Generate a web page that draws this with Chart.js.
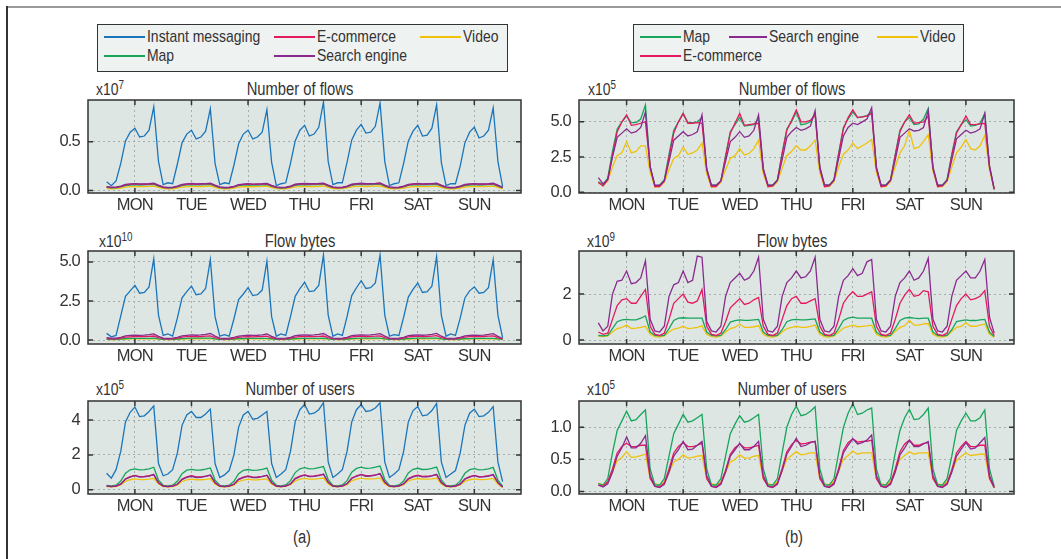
<!DOCTYPE html>
<html>
<head>
<meta charset="utf-8">
<script src="https://cdn.jsdelivr.net/npm/chart.js@4.4.0/dist/chart.umd.min.js"></script>
<style>
  body { margin: 0; width: 1061px; height: 559px; overflow: hidden; position: relative; background: #fff;
         font-family: "Liberation Sans", Arial, sans-serif; color: #333; }
  .frame-top { position: absolute; left: 7px; top: 6px; width: 1054px; height: 2px; background: #999; }
  .frame-left { position: absolute; left: 6px; top: 6px; width: 2px; height: 553px; background: #333; }
  canvas { position: absolute; }
  .legend { position: absolute; top: 24px; height: 48px; border: 1.5px solid #333; background: #eef2f1; box-sizing: border-box; }
  .item { position: absolute; font-size: 17px; line-height: 18px; height: 18px; white-space: nowrap; }
  .item i { position: absolute; left: 0; top: 8px; height: 0; width: 41px; border-top: 2px solid; }
  .item span { position: absolute; left: 43px; top: 0; transform: scaleX(0.82); transform-origin: left center; }
  .title { position: absolute; font-size: 18px; line-height: 18px; transform: translateX(-50%) scaleX(0.82); white-space: nowrap; }
  .exp { position: absolute; font-size: 17px; line-height: 18px; white-space: nowrap; transform: scaleX(0.82); transform-origin: left center; }
  .exp sup { font-size: 12px; vertical-align: 6px; line-height: 0; }
  .sub { position: absolute; font-size: 18px; line-height: 18px; transform: translateX(-50%) scaleX(0.82); }
</style>
</head>
<body>
<div class="frame-top"></div>
<div class="frame-left"></div>

<div class="legend" style="left:97px; width:411px;">
  <div class="item" style="left:6px; top:3px;"><i style="color:#1b75bb"></i><span>Instant messaging</span></div>
  <div class="item" style="left:176px; top:3px;"><i style="color:#e5195e"></i><span>E-commerce</span></div>
  <div class="item" style="left:322px; top:3px;"><i style="color:#f0c20a"></i><span>Video</span></div>
  <div class="item" style="left:6px; top:22px;"><i style="color:#17a55b"></i><span>Map</span></div>
  <div class="item" style="left:176px; top:22px;"><i style="color:#8a2a8e"></i><span>Search engine</span></div>
</div>
<div class="legend" style="left:633px; width:331px;">
  <div class="item" style="left:6px; top:3px;"><i style="color:#17a55b"></i><span>Map</span></div>
  <div class="item" style="left:95px; top:3px;"><i style="color:#8a2a8e; width:38px"></i><span style="left:40px">Search engine</span></div>
  <div class="item" style="left:243px; top:3px;"><i style="color:#f0c20a"></i><span>Video</span></div>
  <div class="item" style="left:6px; top:22px;"><i style="color:#e5195e"></i><span>E-commerce</span></div>
</div>

<div class="title" style="left:300px; top:80px;">Number of flows</div>
<div class="title" style="left:792px; top:80px;">Number of flows</div>
<div class="title" style="left:300px; top:232px;">Flow bytes</div>
<div class="title" style="left:792px; top:232px;">Flow bytes</div>
<div class="title" style="left:300px; top:380px;">Number of users</div>
<div class="title" style="left:792px; top:380px;">Number of users</div>

<div class="exp" style="left:96px; top:81px;">x10<sup>7</sup></div>
<div class="exp" style="left:588px; top:81px;">x10<sup>5</sup></div>
<div class="exp" style="left:99px; top:233px;">x10<sup>10</sup></div>
<div class="exp" style="left:587px; top:233px;">x10<sup>9</sup></div>
<div class="exp" style="left:96px; top:381px;">x10<sup>5</sup></div>
<div class="exp" style="left:587px; top:381px;">x10<sup>5</sup></div>

<div class="sub" style="left:302px; top:528px;">(a)</div>
<div class="sub" style="left:794px; top:528px;">(b)</div>

<canvas id="a1"></canvas>
<canvas id="a2"></canvas>
<canvas id="a3"></canvas>
<canvas id="b1"></canvas>
<canvas id="b2"></canvas>
<canvas id="b3"></canvas>

<script>
const dayNames = ['MON', 'TUE', 'WED', 'THU', 'FRI', 'SAT', 'SUN']
const dayTicks = [12, 36, 60, 84, 108, 132, 156]
const hours = [0,2,4,6,8,10,12,14,16,18,20,22,24,26,28,30,32,34,36,38,40,42,44,46,48,50,52,54,56,58,60,62,64,66,68,70,72,74,76,78,80,82,84,86,88,90,92,94,96,98,100,102,104,106,108,110,112,114,116,118,120,122,124,126,128,130,132,134,136,138,140,142,144,146,148,150,152,154,156,158,160,162,164,166,168]

// (a) number of flows, x10^7
const flowsIM = [
  0.09,0.05,0.10,0.28,0.51,0.60,0.64,0.55,0.56,0.62,0.86,0.30,
  0.06,0.08,0.07,0.27,0.49,0.58,0.62,0.53,0.55,0.61,0.84,0.28,
  0.06,0.08,0.07,0.26,0.48,0.58,0.62,0.53,0.55,0.60,0.83,0.29,
  0.05,0.07,0.08,0.28,0.51,0.62,0.67,0.56,0.58,0.65,0.91,0.30,
  0.06,0.08,0.08,0.29,0.52,0.62,0.68,0.59,0.60,0.66,0.90,0.30,
  0.05,0.07,0.08,0.28,0.51,0.61,0.67,0.56,0.57,0.64,0.88,0.29,
  0.05,0.07,0.07,0.25,0.49,0.60,0.65,0.54,0.56,0.62,0.85,0.30,
  0.04]
const flowsEcom = [
  0.035,0.030,0.032,0.040,0.058,0.064,0.068,0.064,0.065,0.067,0.070,0.050,
  0.032,0.028,0.030,0.040,0.058,0.065,0.069,0.065,0.066,0.068,0.071,0.050,
  0.032,0.028,0.030,0.039,0.057,0.063,0.067,0.063,0.064,0.066,0.069,0.049,
  0.032,0.028,0.030,0.041,0.060,0.066,0.070,0.066,0.067,0.069,0.072,0.051,
  0.033,0.029,0.031,0.041,0.060,0.067,0.071,0.067,0.068,0.070,0.073,0.051,
  0.033,0.029,0.031,0.040,0.059,0.065,0.069,0.065,0.066,0.068,0.071,0.050,
  0.032,0.028,0.030,0.040,0.058,0.064,0.068,0.064,0.065,0.067,0.070,0.050,
  0.030]
const flowsSearch = [
  0.040,0.034,0.035,0.045,0.063,0.068,0.072,0.068,0.069,0.071,0.075,0.055,
  0.037,0.032,0.034,0.045,0.063,0.069,0.073,0.069,0.070,0.072,0.076,0.055,
  0.037,0.032,0.034,0.044,0.062,0.067,0.071,0.067,0.068,0.070,0.074,0.054,
  0.037,0.032,0.034,0.046,0.065,0.070,0.074,0.070,0.071,0.073,0.077,0.056,
  0.038,0.033,0.035,0.046,0.065,0.071,0.075,0.071,0.072,0.074,0.078,0.056,
  0.038,0.033,0.035,0.045,0.064,0.069,0.073,0.069,0.070,0.072,0.076,0.055,
  0.037,0.032,0.034,0.045,0.063,0.068,0.072,0.068,0.069,0.071,0.075,0.055,
  0.033]
const flowsMap = [
  0.032,0.028,0.029,0.038,0.052,0.057,0.060,0.057,0.058,0.060,0.063,0.045,
  0.030,0.026,0.028,0.038,0.052,0.058,0.061,0.058,0.059,0.061,0.064,0.045,
  0.030,0.026,0.028,0.037,0.051,0.056,0.059,0.056,0.057,0.059,0.062,0.044,
  0.030,0.026,0.028,0.039,0.054,0.059,0.062,0.059,0.060,0.062,0.065,0.046,
  0.031,0.027,0.029,0.039,0.054,0.060,0.063,0.060,0.061,0.063,0.066,0.046,
  0.031,0.027,0.029,0.038,0.053,0.058,0.061,0.058,0.059,0.061,0.064,0.045,
  0.030,0.026,0.028,0.038,0.052,0.057,0.060,0.057,0.058,0.060,0.063,0.045,
  0.028]
const flowsVideo = [
  0.022,0.018,0.019,0.026,0.036,0.040,0.042,0.040,0.041,0.043,0.046,0.032,
  0.020,0.017,0.018,0.026,0.036,0.041,0.043,0.041,0.042,0.044,0.047,0.032,
  0.020,0.017,0.018,0.025,0.035,0.039,0.041,0.039,0.040,0.042,0.045,0.031,
  0.020,0.017,0.018,0.027,0.037,0.041,0.043,0.041,0.042,0.044,0.047,0.033,
  0.021,0.018,0.019,0.027,0.037,0.042,0.044,0.042,0.043,0.045,0.048,0.033,
  0.021,0.018,0.019,0.026,0.036,0.040,0.042,0.040,0.041,0.043,0.046,0.032,
  0.020,0.017,0.018,0.026,0.036,0.040,0.042,0.040,0.041,0.043,0.046,0.032,
  0.018]

// (a) flow bytes, x10^10
const bytesIM = [
  0.43,0.21,0.30,1.55,2.80,3.15,3.50,3.00,3.05,3.40,5.20,1.60,
  0.30,0.40,0.25,1.40,2.70,3.10,3.45,2.90,2.95,3.30,5.15,1.50,
  0.25,0.35,0.25,1.35,2.60,2.95,3.35,2.85,2.90,3.20,5.05,1.50,
  0.25,0.40,0.30,1.50,2.80,3.30,3.70,3.10,3.15,3.50,5.45,1.60,
  0.25,0.40,0.30,1.50,2.85,3.35,3.80,3.30,3.35,3.65,5.45,1.60,
  0.25,0.35,0.30,1.45,2.75,3.25,3.65,3.05,3.10,3.45,5.35,1.60,
  0.25,0.40,0.30,1.40,2.70,3.15,3.40,3.00,3.05,3.35,5.15,1.60,
  0.15]
const bytesSearch = [
  0.15,0.12,0.12,0.18,0.27,0.30,0.32,0.30,0.32,0.35,0.40,0.24,
  0.13,0.11,0.12,0.18,0.27,0.30,0.33,0.31,0.33,0.37,0.42,0.25,
  0.13,0.11,0.12,0.17,0.26,0.29,0.31,0.30,0.31,0.34,0.39,0.24,
  0.13,0.11,0.12,0.18,0.28,0.31,0.33,0.31,0.33,0.36,0.42,0.25,
  0.13,0.11,0.12,0.18,0.28,0.32,0.34,0.32,0.34,0.37,0.41,0.25,
  0.13,0.11,0.12,0.18,0.28,0.31,0.33,0.31,0.33,0.37,0.43,0.25,
  0.13,0.11,0.12,0.18,0.27,0.30,0.32,0.30,0.32,0.36,0.41,0.24,
  0.10]
const bytesEcom = [
  0.10,0.08,0.08,0.12,0.19,0.21,0.23,0.22,0.22,0.24,0.26,0.16,
  0.09,0.07,0.08,0.12,0.19,0.22,0.24,0.22,0.23,0.25,0.27,0.16,
  0.09,0.07,0.08,0.11,0.18,0.21,0.22,0.21,0.22,0.23,0.25,0.15,
  0.09,0.07,0.08,0.12,0.19,0.22,0.23,0.22,0.22,0.24,0.26,0.16,
  0.09,0.07,0.08,0.12,0.20,0.23,0.25,0.23,0.24,0.25,0.27,0.16,
  0.09,0.07,0.08,0.12,0.20,0.23,0.25,0.23,0.24,0.26,0.28,0.16,
  0.09,0.07,0.08,0.12,0.19,0.22,0.24,0.22,0.23,0.25,0.27,0.16,
  0.07]
const bytesMap = [
  0.06,0.05,0.05,0.07,0.10,0.11,0.11,0.11,0.11,0.11,0.12,0.08,
  0.05,0.05,0.05,0.07,0.10,0.11,0.12,0.12,0.12,0.12,0.12,0.08,
  0.05,0.05,0.05,0.07,0.10,0.10,0.11,0.11,0.11,0.11,0.11,0.08,
  0.05,0.05,0.05,0.07,0.10,0.11,0.11,0.11,0.11,0.11,0.12,0.08,
  0.05,0.05,0.05,0.07,0.10,0.11,0.12,0.12,0.12,0.12,0.12,0.08,
  0.05,0.05,0.05,0.07,0.10,0.11,0.12,0.12,0.12,0.12,0.12,0.08,
  0.05,0.05,0.05,0.07,0.10,0.10,0.11,0.11,0.11,0.11,0.11,0.08,
  0.05]
const bytesVideo = [
  0.04,0.03,0.03,0.05,0.07,0.08,0.08,0.08,0.08,0.08,0.09,0.06,
  0.04,0.03,0.03,0.05,0.07,0.08,0.08,0.08,0.08,0.09,0.09,0.06,
  0.04,0.03,0.03,0.05,0.07,0.07,0.08,0.08,0.08,0.08,0.08,0.06,
  0.04,0.03,0.03,0.05,0.07,0.08,0.08,0.08,0.08,0.08,0.09,0.06,
  0.04,0.03,0.03,0.05,0.07,0.08,0.09,0.08,0.08,0.09,0.09,0.06,
  0.04,0.03,0.03,0.05,0.07,0.08,0.09,0.08,0.08,0.09,0.09,0.06,
  0.04,0.03,0.03,0.05,0.07,0.08,0.08,0.08,0.08,0.08,0.09,0.06,
  0.03]

// (a) number of users, x10^5
const usersIM = [
  0.94,0.66,1.15,2.20,3.90,4.45,4.75,4.20,4.25,4.50,4.82,1.50,
  0.80,0.90,1.15,2.10,3.70,4.30,4.50,4.15,4.15,4.35,4.63,1.50,
  0.70,0.85,1.10,2.00,3.60,4.30,4.50,4.05,4.10,4.30,4.50,1.50,
  0.70,0.90,1.15,2.20,3.90,4.60,4.90,4.35,4.40,4.60,5.00,1.60,
  0.70,0.90,1.15,2.20,3.90,4.60,4.90,4.50,4.55,4.70,5.00,1.60,
  0.70,0.90,1.15,2.20,3.90,4.55,4.78,4.25,4.30,4.55,4.96,1.60,
  0.70,0.90,1.10,2.10,3.70,4.40,4.63,4.20,4.25,4.45,4.78,1.60,
  0.46]
const usersMap = [
  0.25,0.22,0.26,0.50,0.95,1.14,1.20,1.14,1.15,1.20,1.29,0.55,
  0.25,0.22,0.26,0.48,0.92,1.12,1.17,1.12,1.13,1.18,1.25,0.55,
  0.25,0.22,0.26,0.48,0.92,1.11,1.16,1.11,1.12,1.17,1.24,0.55,
  0.25,0.22,0.27,0.52,0.98,1.20,1.27,1.20,1.21,1.27,1.33,0.58,
  0.25,0.22,0.27,0.52,1.00,1.22,1.30,1.22,1.24,1.29,1.36,0.58,
  0.25,0.22,0.27,0.50,0.96,1.17,1.23,1.16,1.17,1.22,1.30,0.56,
  0.25,0.22,0.26,0.49,0.94,1.15,1.21,1.14,1.15,1.20,1.28,0.55,
  0.20]
const usersSearch = [
  0.20,0.17,0.20,0.32,0.60,0.72,0.80,0.72,0.73,0.78,0.88,0.40,
  0.20,0.17,0.20,0.31,0.58,0.70,0.77,0.70,0.71,0.76,0.84,0.40,
  0.20,0.17,0.20,0.31,0.58,0.69,0.76,0.69,0.70,0.75,0.83,0.40,
  0.20,0.17,0.21,0.33,0.62,0.75,0.83,0.75,0.76,0.81,0.90,0.42,
  0.20,0.17,0.21,0.34,0.64,0.77,0.86,0.77,0.78,0.84,0.93,0.42,
  0.20,0.17,0.21,0.33,0.61,0.74,0.81,0.73,0.74,0.79,0.88,0.41,
  0.20,0.17,0.20,0.32,0.60,0.72,0.80,0.72,0.73,0.78,0.87,0.40,
  0.15]
const usersEcom = [
  0.21,0.18,0.21,0.33,0.63,0.75,0.82,0.75,0.76,0.80,0.85,0.40,
  0.21,0.18,0.21,0.32,0.61,0.73,0.80,0.73,0.74,0.78,0.83,0.40,
  0.21,0.18,0.21,0.32,0.61,0.72,0.79,0.72,0.73,0.77,0.82,0.40,
  0.21,0.18,0.22,0.34,0.65,0.78,0.85,0.78,0.79,0.83,0.88,0.42,
  0.21,0.18,0.22,0.35,0.67,0.80,0.88,0.80,0.81,0.85,0.90,0.42,
  0.21,0.18,0.22,0.34,0.64,0.77,0.84,0.76,0.77,0.81,0.86,0.41,
  0.21,0.18,0.21,0.33,0.63,0.75,0.82,0.75,0.76,0.80,0.85,0.40,
  0.15]
const usersVideo = [
  0.18,0.16,0.18,0.27,0.48,0.57,0.62,0.58,0.58,0.60,0.65,0.32,
  0.18,0.16,0.18,0.26,0.47,0.56,0.60,0.57,0.57,0.59,0.63,0.32,
  0.18,0.16,0.18,0.26,0.47,0.55,0.60,0.56,0.57,0.59,0.62,0.32,
  0.18,0.16,0.19,0.28,0.50,0.60,0.65,0.61,0.61,0.63,0.67,0.33,
  0.18,0.16,0.19,0.28,0.51,0.61,0.66,0.62,0.62,0.64,0.68,0.33,
  0.18,0.16,0.19,0.28,0.50,0.59,0.64,0.60,0.60,0.62,0.66,0.33,
  0.18,0.16,0.18,0.27,0.48,0.57,0.62,0.58,0.58,0.60,0.65,0.32,
  0.13]

// (b) number of flows, x10^5
const bFlowsMap = [
  0.75,0.55,1.00,2.90,4.50,5.00,5.40,4.95,4.95,5.20,6.20,1.80,
  0.45,0.50,0.90,2.70,4.40,5.00,5.60,4.95,4.95,5.00,5.30,1.60,
  0.50,0.50,0.80,2.60,4.30,4.80,5.30,4.70,4.75,4.80,5.20,1.60,
  0.50,0.50,0.90,2.80,4.50,5.00,5.70,4.80,4.85,5.00,5.60,1.70,
  0.50,0.50,0.90,2.80,4.60,5.20,5.70,5.30,5.35,5.45,5.70,1.70,
  0.50,0.50,0.90,2.70,4.40,5.00,5.30,4.80,4.85,5.20,5.95,1.70,
  0.50,0.50,0.90,2.70,4.30,4.80,5.15,4.70,4.75,4.90,5.60,1.80,
  0.20]
const bFlowsEcom = [
  0.70,0.45,0.90,2.60,4.30,5.00,5.50,4.75,4.80,4.90,5.00,1.80,
  0.40,0.40,0.80,2.50,4.20,5.00,5.60,4.90,4.90,4.95,4.90,1.60,
  0.40,0.40,0.80,2.50,4.20,4.90,5.60,4.75,4.80,4.85,4.90,1.60,
  0.40,0.45,0.85,2.70,4.40,5.10,5.85,5.00,5.00,5.10,5.50,1.70,
  0.40,0.45,0.85,2.70,4.50,5.30,5.85,5.30,5.35,5.40,5.60,1.70,
  0.40,0.45,0.85,2.60,4.30,5.00,5.50,4.90,4.95,5.00,5.40,1.70,
  0.40,0.45,0.85,2.60,4.20,4.80,5.40,4.80,4.80,4.85,4.90,1.80,
  0.20]
const bFlowsSearch = [
  1.04,0.60,0.90,2.50,3.90,4.20,4.50,4.20,4.30,4.60,5.70,1.80,
  0.50,0.50,0.80,2.20,3.70,4.00,4.30,4.00,4.10,4.30,5.50,1.70,
  0.50,0.50,0.80,2.20,3.60,3.90,4.30,3.90,4.00,4.40,5.50,1.70,
  0.50,0.50,0.85,2.30,3.90,4.30,4.60,4.40,4.50,4.70,5.80,1.80,
  0.55,0.50,0.85,2.40,4.00,4.60,4.90,4.80,5.00,5.20,6.00,1.80,
  0.50,0.50,0.85,2.30,3.90,4.20,4.50,4.35,4.40,4.60,5.80,1.80,
  0.50,0.50,0.85,2.30,3.80,4.10,4.40,4.20,4.30,4.50,5.60,1.90,
  0.25]
const bFlowsVideo = [
  0.70,0.45,0.80,1.80,2.60,2.80,3.60,2.80,2.90,3.30,3.30,1.40,
  0.35,0.40,0.70,1.60,2.40,2.60,3.20,2.70,2.80,3.00,3.50,1.30,
  0.35,0.40,0.70,1.60,2.40,2.60,3.10,2.65,2.75,3.10,3.70,1.30,
  0.40,0.40,0.75,1.70,2.60,2.90,3.30,3.00,3.00,3.30,3.70,1.40,
  0.40,0.40,0.75,1.80,2.70,3.00,3.50,3.10,3.30,3.50,3.75,1.40,
  0.40,0.40,0.75,1.80,2.80,3.30,4.40,3.10,3.20,3.60,4.10,1.50,
  0.40,0.40,0.75,1.80,2.80,3.20,3.75,3.10,3.00,3.30,4.05,1.60,
  0.20]

// (b) flow bytes, x10^9
const bBytesSearch = [
  0.75,0.40,0.60,2.00,2.55,2.60,3.00,2.45,2.50,2.70,3.45,0.90,
  0.40,0.35,0.60,1.90,2.40,2.50,3.00,2.50,2.60,3.65,3.60,0.80,
  0.40,0.35,0.60,1.90,2.50,2.70,2.90,2.60,2.70,3.00,3.60,0.90,
  0.40,0.35,0.60,1.90,2.50,2.70,3.00,2.70,2.75,3.00,3.60,0.90,
  0.40,0.35,0.60,1.90,2.60,2.80,3.10,2.80,2.90,3.40,3.50,0.90,
  0.40,0.35,0.60,1.90,2.50,2.70,3.00,2.60,2.70,3.00,3.55,0.90,
  0.40,0.35,0.60,1.90,2.60,2.80,3.00,2.70,2.70,3.00,3.50,1.00,
  0.30]
const bBytesEcom = [
  0.35,0.25,0.30,0.90,1.50,1.75,1.80,1.60,1.60,1.90,2.20,0.60,
  0.25,0.20,0.30,0.90,1.60,1.80,2.00,1.65,1.60,1.70,2.20,0.60,
  0.25,0.20,0.30,0.80,1.40,1.60,1.80,1.55,1.60,1.75,1.85,0.60,
  0.25,0.20,0.30,0.90,1.50,1.80,1.90,1.60,1.60,1.70,1.80,0.60,
  0.25,0.20,0.30,0.90,1.60,1.90,2.10,1.90,1.90,2.00,2.10,0.60,
  0.25,0.20,0.30,0.90,1.60,1.95,2.20,1.90,1.95,2.15,2.10,0.60,
  0.25,0.20,0.30,0.90,1.50,1.80,2.00,1.75,1.80,1.90,2.15,0.60,
  0.20]
const bBytesMap = [
  0.20,0.18,0.20,0.50,0.80,0.88,0.90,0.88,0.88,0.95,1.05,0.35,
  0.20,0.18,0.20,0.50,0.85,0.95,0.97,0.95,0.95,0.95,0.95,0.35,
  0.20,0.18,0.20,0.45,0.78,0.85,0.88,0.86,0.86,0.88,0.90,0.35,
  0.20,0.18,0.20,0.45,0.80,0.88,0.90,0.88,0.88,0.90,0.92,0.35,
  0.20,0.18,0.20,0.50,0.85,0.95,1.00,0.95,0.95,0.95,0.95,0.35,
  0.20,0.18,0.20,0.50,0.85,0.95,0.98,0.95,0.93,0.95,0.95,0.35,
  0.20,0.18,0.20,0.45,0.80,0.85,0.88,0.85,0.85,0.88,0.90,0.35,
  0.15]
const bBytesVideo = [
  0.18,0.15,0.18,0.35,0.50,0.55,0.65,0.50,0.52,0.55,0.60,0.25,
  0.15,0.13,0.18,0.35,0.48,0.52,0.60,0.50,0.52,0.55,0.62,0.25,
  0.15,0.13,0.18,0.35,0.50,0.55,0.70,0.55,0.55,0.58,0.62,0.25,
  0.15,0.13,0.18,0.35,0.50,0.55,0.60,0.55,0.55,0.60,0.65,0.25,
  0.15,0.13,0.18,0.35,0.52,0.58,0.65,0.58,0.60,0.62,0.65,0.25,
  0.15,0.13,0.18,0.38,0.55,0.62,0.85,0.65,0.65,0.70,0.72,0.25,
  0.15,0.13,0.18,0.38,0.55,0.60,0.75,0.60,0.60,0.65,0.70,0.25,
  0.12]

// (b) number of users, x10^5
const bUsersMap = [
  0.12,0.10,0.20,0.60,0.95,1.10,1.25,1.10,1.12,1.20,1.27,0.35,
  0.10,0.10,0.20,0.55,0.90,1.05,1.20,1.08,1.10,1.15,1.20,0.35,
  0.10,0.10,0.20,0.55,0.90,1.05,1.18,1.08,1.10,1.15,1.20,0.35,
  0.10,0.10,0.20,0.60,1.00,1.20,1.33,1.18,1.20,1.25,1.32,0.35,
  0.10,0.10,0.20,0.60,1.00,1.22,1.37,1.20,1.22,1.27,1.30,0.35,
  0.10,0.10,0.20,0.60,0.95,1.15,1.28,1.12,1.13,1.20,1.30,0.35,
  0.10,0.10,0.20,0.55,0.95,1.10,1.22,1.10,1.10,1.15,1.27,0.35,
  0.08]
const bUsersEcom = [
  0.10,0.08,0.15,0.35,0.60,0.70,0.75,0.70,0.70,0.72,0.72,0.20,
  0.08,0.07,0.13,0.35,0.60,0.70,0.76,0.70,0.70,0.72,0.75,0.20,
  0.08,0.07,0.13,0.33,0.58,0.68,0.74,0.68,0.68,0.70,0.72,0.20,
  0.08,0.07,0.13,0.36,0.62,0.73,0.80,0.74,0.75,0.77,0.78,0.20,
  0.08,0.07,0.13,0.36,0.64,0.76,0.82,0.77,0.78,0.78,0.80,0.20,
  0.08,0.07,0.13,0.35,0.62,0.74,0.80,0.72,0.72,0.75,0.76,0.20,
  0.08,0.07,0.13,0.34,0.60,0.70,0.78,0.70,0.70,0.72,0.72,0.20,
  0.06]
const bUsersSearch = [
  0.10,0.07,0.12,0.30,0.55,0.68,0.85,0.68,0.68,0.75,0.87,0.25,
  0.08,0.06,0.11,0.30,0.55,0.65,0.78,0.65,0.66,0.72,0.78,0.25,
  0.08,0.06,0.11,0.30,0.55,0.65,0.75,0.65,0.65,0.70,0.78,0.25,
  0.08,0.06,0.11,0.32,0.58,0.70,0.83,0.70,0.72,0.76,0.78,0.25,
  0.08,0.06,0.11,0.32,0.60,0.72,0.82,0.74,0.76,0.80,0.88,0.25,
  0.08,0.06,0.11,0.30,0.57,0.68,0.80,0.70,0.70,0.74,0.78,0.25,
  0.08,0.06,0.11,0.30,0.55,0.66,0.76,0.66,0.68,0.76,0.84,0.25,
  0.06]
const bUsersVideo = [
  0.13,0.10,0.15,0.30,0.48,0.53,0.62,0.53,0.54,0.56,0.58,0.20,
  0.12,0.10,0.15,0.30,0.46,0.50,0.57,0.52,0.53,0.55,0.56,0.20,
  0.12,0.10,0.15,0.30,0.46,0.50,0.57,0.52,0.52,0.55,0.56,0.20,
  0.12,0.10,0.15,0.32,0.50,0.56,0.62,0.57,0.58,0.60,0.60,0.20,
  0.12,0.10,0.15,0.32,0.50,0.56,0.63,0.58,0.60,0.60,0.60,0.20,
  0.12,0.10,0.15,0.32,0.50,0.56,0.62,0.58,0.60,0.60,0.60,0.20,
  0.12,0.10,0.15,0.31,0.48,0.55,0.60,0.56,0.57,0.58,0.58,0.20,
  0.06]

const blue = '#1b75bb'
const red = '#e5195e'
const yellow = '#f0c20a'
const green = '#17a55b'
const purple = '#8a2a8e'

Chart.defaults.font.family = '"Liberation Sans", Arial, sans-serif'
Chart.defaults.color = '#333'

// plot background, box outline and inward tick marks
const frame = {
  id: 'frame',
  beforeDraw: chart => {
    const { ctx, chartArea: a } = chart
    ctx.letterSpacing = '-0.8px' // narrow the tick labels a bit
    ctx.save()
    ctx.fillStyle = '#dde6e3'
    ctx.fillRect(a.left, a.top, a.right - a.left, a.bottom - a.top)
    ctx.restore()
  },
  afterDraw: chart => {
    const { ctx, chartArea: a, scales } = chart
    ctx.save()
    ctx.strokeStyle = '#333'
    ctx.lineWidth = 1.5
    ctx.strokeRect(a.left, a.top, a.right - a.left, a.bottom - a.top)
    ctx.beginPath()
    scales.x.ticks.forEach(t => {
      const px = scales.x.getPixelForValue(t.value)
      ctx.moveTo(px, a.bottom); ctx.lineTo(px, a.bottom - 5)
      ctx.moveTo(px, a.top); ctx.lineTo(px, a.top + 5)
    })
    scales.y.ticks.forEach(t => {
      const py = scales.y.getPixelForValue(t.value)
      ctx.moveTo(a.left, py); ctx.lineTo(a.left + 5, py)
      ctx.moveTo(a.right, py); ctx.lineTo(a.right - 5, py)
    })
    ctx.stroke()
    ctx.restore()
  }
}

const panel = (id, box, xRange, yRange, yTicks, digits, series) => {
  const cv = document.getElementById(id)
  cv.style.left = (box.left - 50) + 'px'
  cv.style.top = (box.top - 2) + 'px'
  cv.width = box.width + 60
  cv.height = box.height + 32
  new Chart(cv, {
    type: 'line',
    data: {
      labels: hours,
      datasets: series.map(s => ({ data: s.data, borderColor: s.color, borderWidth: 1.3, pointRadius: 0, tension: 0 }))
    },
    options: {
      responsive: false,
      animation: false,
      events: [],
      layout: { padding: { top: 2, right: 10, left: 0, bottom: 0 } },
      plugins: { legend: { display: false }, tooltip: { enabled: false } },
      scales: {
        x: {
          type: 'linear', min: xRange[0], max: xRange[1],
          afterBuildTicks: s => { s.ticks = dayTicks.map(v => ({ value: v })) },
          afterFit: s => { s.height = 30; s.paddingLeft = 0; s.paddingRight = 0 },
          ticks: { callback: (v, i) => dayNames[i], autoSkip: false, maxRotation: 0, padding: 3, font: { size: 16.5 } },
          grid: { drawTicks: false, color: '#a6adab', lineWidth: 1 },
          border: { display: false, dash: [2, 3] }
        },
        y: {
          min: yRange[0], max: yRange[1],
          afterBuildTicks: s => { s.ticks = yTicks.map(v => ({ value: v })) },
          afterFit: s => { s.width = 50; s.paddingTop = 0; s.paddingBottom = 0 },
          ticks: { callback: v => v.toFixed(digits), padding: 8, font: { size: 16.5 } },
          grid: { drawTicks: false, color: '#a6adab', lineWidth: 1 },
          border: { display: false, dash: [2, 3] }
        }
      }
    },
    plugins: [frame]
  })
}

const colA = { left: 88, width: 433 }
const colB = { left: 579, width: 435 }
const rowTops = [100, 251, 401]
const xA = [-7.9, 175.8]
const xB = [-8.2, 176.4]

panel('a1', { ...colA, top: rowTops[0], height: 93 }, xA, [-0.025, 0.93], [0, 0.5], 1, [
  { data: flowsIM, color: blue }, { data: flowsSearch, color: purple }, { data: flowsEcom, color: red },
  { data: flowsMap, color: green }, { data: flowsVideo, color: yellow }])
panel('a2', { ...colA, top: rowTops[1], height: 93 }, xA, [-0.25, 5.7], [0, 2.5, 5], 1, [
  { data: bytesIM, color: blue }, { data: bytesSearch, color: purple }, { data: bytesEcom, color: red },
  { data: bytesMap, color: green }, { data: bytesVideo, color: yellow }])
panel('a3', { ...colA, top: rowTops[2], height: 93 }, xA, [-0.25, 5.1], [0, 2, 4], 0, [
  { data: usersIM, color: blue }, { data: usersSearch, color: purple }, { data: usersEcom, color: red },
  { data: usersMap, color: green }, { data: usersVideo, color: yellow }])
panel('b1', { ...colB, top: rowTops[0], height: 93 }, xB, [-0.05, 6.55], [0, 2.5, 5], 1, [
  { data: bFlowsSearch, color: purple }, { data: bFlowsEcom, color: red },
  { data: bFlowsMap, color: green }, { data: bFlowsVideo, color: yellow }])
panel('b2', { ...colB, top: rowTops[1], height: 93 }, xB, [-0.17, 3.87], [0, 2], 0, [
  { data: bBytesSearch, color: purple }, { data: bBytesEcom, color: red },
  { data: bBytesMap, color: green }, { data: bBytesVideo, color: yellow }])
panel('b3', { ...colB, top: rowTops[2], height: 93 }, xB, [-0.04, 1.41], [0, 0.5, 1], 1, [
  { data: bUsersSearch, color: purple }, { data: bUsersEcom, color: red },
  { data: bUsersMap, color: green }, { data: bUsersVideo, color: yellow }])
</script>
</body>
</html>
